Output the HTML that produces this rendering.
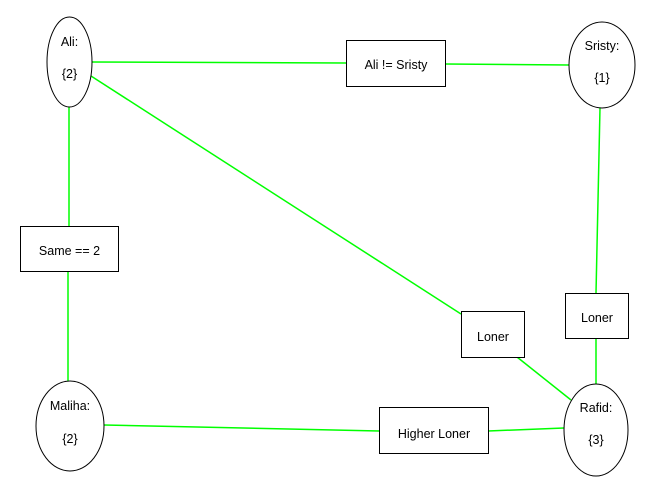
<!DOCTYPE html>
<html><head><style>body{margin:0;background:#fff}svg{display:block}</style></head><body>
<svg width="672" height="485" viewBox="0 0 672 485" xmlns="http://www.w3.org/2000/svg" font-family="Liberation Sans, Arial, sans-serif" font-size="12.5">
<g stroke="#00ff00" stroke-width="1.5" fill="none">
<line x1="92" y1="62" x2="346" y2="63"/>
<line x1="445" y1="64" x2="569" y2="65"/>
<line x1="69" y1="107" x2="69" y2="226"/>
<line x1="68" y1="271" x2="68" y2="381"/>
<line x1="91" y1="76" x2="461" y2="314"/>
<line x1="517" y1="357" x2="571" y2="400"/>
<line x1="600" y1="108" x2="596" y2="293"/>
<line x1="596" y1="338" x2="596" y2="384"/>
<line x1="104" y1="425" x2="379" y2="431"/>
<line x1="488" y1="431" x2="564" y2="428"/>
</g>
<g stroke="#000" stroke-width="1" fill="#fff">
<ellipse cx="69.5" cy="62" rx="22.5" ry="45"/>
<ellipse cx="602" cy="65" rx="33" ry="43"/>
<ellipse cx="70" cy="426" rx="34" ry="45"/>
<ellipse cx="596" cy="430" rx="32" ry="46"/>
<rect x="346.5" y="40.5" width="99" height="46"/>
<rect x="20.5" y="226.5" width="98" height="45"/>
<rect x="461.5" y="311.5" width="63" height="46"/>
<rect x="565.5" y="293.5" width="63" height="45"/>
<rect x="379.5" y="407.5" width="109" height="46"/>
</g>
<g fill="#000" text-anchor="middle">
<text x="69.5" y="46">Ali:</text><text x="69.5" y="78">{2}</text>
<text x="602" y="50">Sristy:</text><text x="602" y="82">{1}</text>
<text x="70" y="410">Maliha:</text><text x="70" y="443">{2}</text>
<text x="596" y="412">Rafid:</text><text x="596" y="444">{3}</text>
<text x="396" y="69">Ali != Sristy</text>
<text x="69.5" y="255">Same == 2</text>
<text x="493" y="341">Loner</text>
<text x="597" y="322">Loner</text>
<text x="434" y="438">Higher Loner</text>
</g>
</svg>
</body></html>
